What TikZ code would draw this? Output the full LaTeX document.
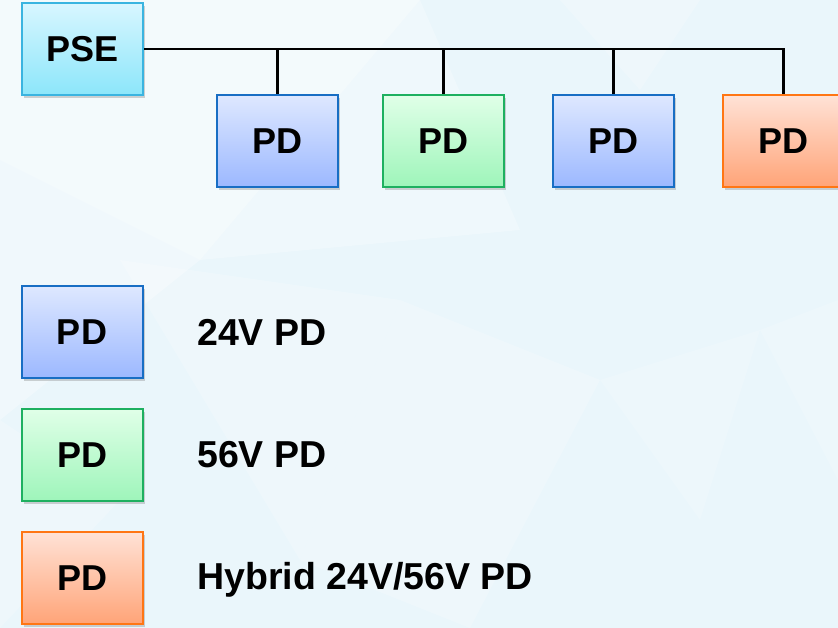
\documentclass[tikz,border=0pt]{standalone}
\usepackage{fontspec}
\setmainfont{Liberation Sans}
\usetikzlibrary{shadows}
\definecolor{bgblue}{RGB}{234,246,251}
\definecolor{bluetop}{RGB}{222,232,255}
\definecolor{bluebot}{RGB}{156,184,255}
\definecolor{blueline}{RGB}{24,110,196}
\definecolor{greentop}{RGB}{224,255,232}
\definecolor{greenbot}{RGB}{158,245,186}
\definecolor{greenline}{RGB}{30,176,96}
\definecolor{orgtop}{RGB}{255,226,214}
\definecolor{orgbot}{RGB}{255,164,120}
\definecolor{orgline}{RGB}{255,118,20}
\definecolor{psetop}{RGB}{216,246,255}
\definecolor{psebot}{RGB}{140,230,250}
\definecolor{pseline}{RGB}{58,180,224}
\tikzset{
  box/.style={rectangle, minimum width=121pt, minimum height=92pt, inner sep=0pt,
    line width=2pt, font=\fontsize{36}{36}\selectfont\bfseries,
    drop shadow={opacity=0.35, shadow xshift=2pt, shadow yshift=-3pt}},
  bluebox/.style={box, draw=blueline, top color=bluetop, bottom color=bluebot},
  greenbox/.style={box, draw=greenline, top color=greentop, bottom color=greenbot},
  orgbox/.style={box, draw=orgline, top color=orgtop, bottom color=orgbot},
  psebox/.style={box, draw=pseline, top color=psetop, bottom color=psebot},
  legtext/.style={anchor=west, inner sep=0pt, font=\fontsize{37.5}{37.5}\selectfont\bfseries},
  wire/.style={line width=2.3pt, black}
}
\begin{document}
\begin{tikzpicture}[x=1pt,y=-1pt]
\useasboundingbox (0,0) rectangle (838,628);
\fill[bgblue] (0,0) rectangle (838,628);
% faint background facets
\fill[white, opacity=0.45] (0,0) -- (420,0) -- (200,260) -- (0,160) -- cycle;
\fill[white, opacity=0.3] (0,160) -- (200,260) -- (0,420) -- cycle;
\fill[white, opacity=0.25] (200,260) -- (420,0) -- (520,230) -- cycle;
\fill[white, opacity=0.2] (120,260) -- (400,300) -- (300,560) -- cycle;
\fill[white, opacity=0.2] (400,300) -- (600,380) -- (470,628) -- (300,560) -- cycle;
\fill[white, opacity=0.2] (0,420) -- (120,500) -- (0,628) -- cycle;
\fill[white, opacity=0.2] (560,0) -- (700,0) -- (640,90) -- cycle;
\fill[white, opacity=0.15] (600,380) -- (760,330) -- (700,520) -- cycle;
\fill[white, opacity=0.15] (760,330) -- (838,300) -- (838,480) -- cycle;

\node[psebox] (pse) at (82.5,49) {PSE};
\node[bluebox] (pd1) at (277.5,141) {PD};
\node[greenbox] (pd2) at (443.5,141) {PD};
\node[bluebox] (pd3) at (613.5,141) {PD};
\node[orgbox] (pd4) at (783.5,141) {PD};

\draw[wire] (pse.east) -| (pd4.north);
\draw[wire] (pd1.north) -- (pd1.north |- pse.east);
\draw[wire] (pd2.north) -- (pd2.north |- pse.east);
\draw[wire] (pd3.north) -- (pd3.north |- pse.east);

\node[bluebox] (l1) at (82,332) {PD};
\node[greenbox] (l2) at (82.5,455) {PD};
\node[orgbox] (l3) at (82.5,578) {PD};
\node[legtext] (t1) at (197,332) {24V PD};
\node[legtext] (t2) at (197,455) {56V PD};
\node[legtext] (t3) at (197,580) {Hybrid 24V/56V PD};
\end{tikzpicture}
\end{document}
